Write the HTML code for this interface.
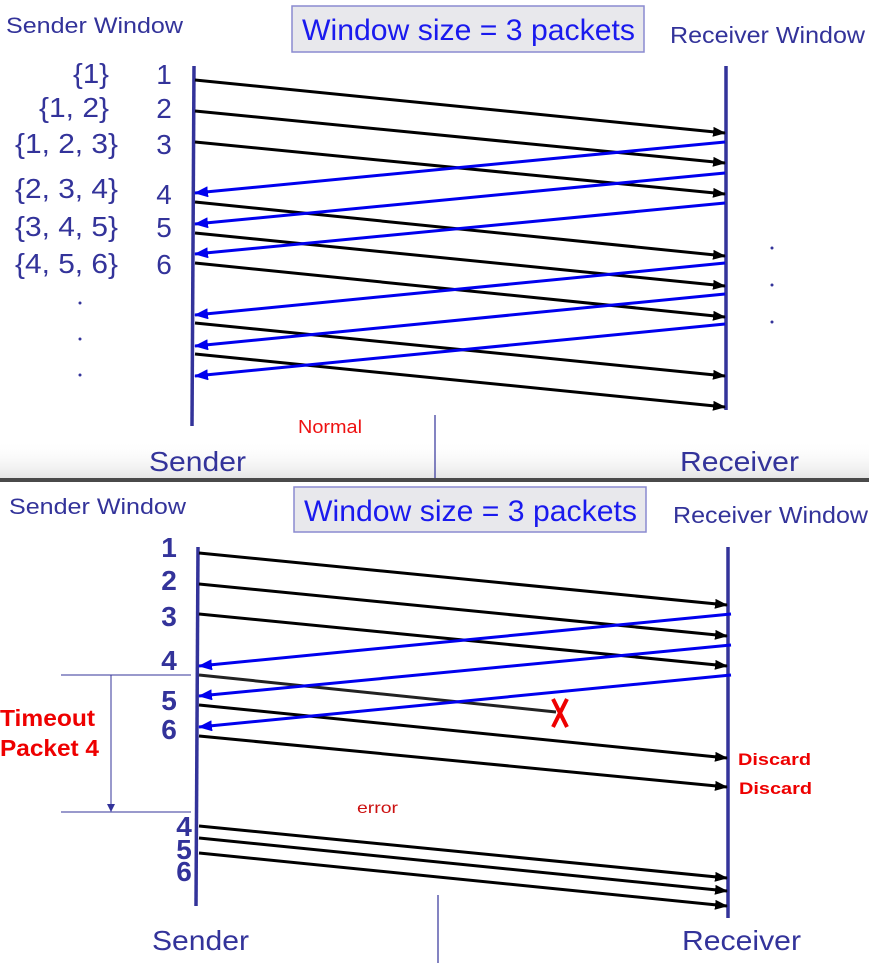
<!DOCTYPE html>
<html><head><meta charset="utf-8"><style>
html,body{margin:0;padding:0;background:#fff;}
svg{display:block;}
text{font-family:"Liberation Sans",Arial,sans-serif;}
</style></head><body>
<svg width="869" height="963" viewBox="0 0 869 963" xmlns="http://www.w3.org/2000/svg">
<defs>
<marker id="ab" markerWidth="13" markerHeight="10" refX="12" refY="5" orient="auto" markerUnits="userSpaceOnUse"><path d="M0,0 L13,5 L0,10 z" fill="#000"/></marker>
<marker id="au" markerWidth="14" markerHeight="11" refX="13" refY="5.5" orient="auto" markerUnits="userSpaceOnUse"><path d="M0,0 L14,5.5 L0,11 z" fill="#0000ee"/></marker>
<marker id="ag" markerWidth="8" markerHeight="8" refX="7" refY="4" orient="auto" markerUnits="userSpaceOnUse"><path d="M0,0 L8,4 L0,8 z" fill="#33339a"/></marker>
<linearGradient id="fade" x1="0" y1="0" x2="0" y2="1"><stop offset="0" stop-color="#fff" stop-opacity="0"/><stop offset="1" stop-color="#e6e6e6"/></linearGradient>
</defs>
<!-- TOP PANEL -->
<text x="6" y="33" font-size="22" fill="#33339a" textLength="177" lengthAdjust="spacingAndGlyphs">Sender Window</text>
<rect x="292" y="6" width="352" height="46" fill="#e8e8ec" stroke="#8a8ad0" stroke-width="1.5"/>
<text x="302" y="40" font-size="30" fill="#1a1aee" textLength="333" lengthAdjust="spacingAndGlyphs">Window size = 3 packets</text>
<text x="670" y="43" font-size="23" fill="#33339a" textLength="195" lengthAdjust="spacingAndGlyphs">Receiver Window</text>
<g font-size="28" fill="#33339a">
<text x="73" y="83" textLength="36" lengthAdjust="spacingAndGlyphs">{1}</text>
<text x="39" y="117" textLength="70" lengthAdjust="spacingAndGlyphs">{1, 2}</text>
<text x="15" y="153" textLength="103" lengthAdjust="spacingAndGlyphs">{1, 2, 3}</text>
<text x="15" y="198" textLength="103" lengthAdjust="spacingAndGlyphs">{2, 3, 4}</text>
<text x="15" y="236" textLength="103" lengthAdjust="spacingAndGlyphs">{3, 4, 5}</text>
<text x="15" y="273" textLength="103" lengthAdjust="spacingAndGlyphs">{4, 5, 6}</text>
</g>
<g font-size="28" fill="#33339a" text-anchor="middle">
<text x="164" y="84">1</text><text x="164" y="118">2</text><text x="164" y="154">3</text>
<text x="164" y="204">4</text><text x="164" y="237">5</text><text x="164" y="274">6</text>
</g>
<g fill="#33339a"><circle cx="80" cy="303" r="1.5"/><circle cx="80" cy="339" r="1.5"/><circle cx="80" cy="375" r="1.5"/>
<circle cx="772" cy="248" r="1.5"/><circle cx="772" cy="285" r="1.5"/><circle cx="772" cy="322" r="1.5"/></g>
<rect x="0" y="440" width="869" height="38" fill="url(#fade)"/>
<line x1="194" y1="66" x2="192" y2="426" stroke="#33339a" stroke-width="3.5"/>
<line x1="726" y1="66" x2="726" y2="410" stroke="#33339a" stroke-width="3.5"/>
<g stroke="#000" stroke-width="3" marker-end="url(#ab)">
<line x1="195" y1="80" x2="725" y2="133"/><line x1="195" y1="111" x2="725" y2="163"/><line x1="195" y1="142" x2="725" y2="194"/>
<line x1="195" y1="202" x2="725" y2="256"/><line x1="195" y1="233" x2="725" y2="286"/><line x1="195" y1="263" x2="725" y2="317"/>
<line x1="195" y1="323" x2="725" y2="376"/><line x1="195" y1="354" x2="725" y2="407"/>
</g>
<g stroke="#0000ee" stroke-width="3" marker-end="url(#au)">
<line x1="725" y1="142" x2="195" y2="193"/><line x1="725" y1="173" x2="195" y2="224"/><line x1="725" y1="203" x2="195" y2="254"/>
<line x1="725" y1="263" x2="195" y2="315"/><line x1="725" y1="294" x2="195" y2="346"/><line x1="725" y1="324" x2="195" y2="376"/>
</g>
<text x="298" y="433" font-size="18" fill="#ee1111" font-family="'DejaVu Sans',sans-serif" textLength="64" lengthAdjust="spacingAndGlyphs">Normal</text>
<line x1="435" y1="415" x2="435" y2="478" stroke="#33339a" stroke-width="1.2"/>
<text x="149" y="471" font-size="28" fill="#33339a" textLength="97" lengthAdjust="spacingAndGlyphs">Sender</text>
<text x="680" y="471" font-size="28" fill="#33339a" textLength="119" lengthAdjust="spacingAndGlyphs">Receiver</text>
<rect x="0" y="478" width="869" height="4" fill="#4a4a4a"/>
<!-- BOTTOM PANEL -->
<text x="9" y="514" font-size="22" fill="#33339a" textLength="177" lengthAdjust="spacingAndGlyphs">Sender Window</text>
<rect x="294" y="487" width="352" height="45" fill="#e8e8ec" stroke="#8a8ad0" stroke-width="1.5"/>
<text x="304" y="521" font-size="30" fill="#1a1aee" textLength="333" lengthAdjust="spacingAndGlyphs">Window size = 3 packets</text>
<text x="673" y="523" font-size="23" fill="#33339a" textLength="195" lengthAdjust="spacingAndGlyphs">Receiver Window</text>
<g font-size="28" font-weight="bold" fill="#33339a" text-anchor="middle">
<text x="169" y="557">1</text><text x="169" y="590">2</text><text x="169" y="626">3</text>
<text x="169" y="670">4</text><text x="169" y="710">5</text><text x="169" y="739">6</text>
<text x="184" y="836">4</text><text x="184" y="859">5</text><text x="184" y="881">6</text>
</g>
<line x1="61" y1="675" x2="191" y2="675" stroke="#33339a" stroke-width="1"/>
<line x1="61" y1="812" x2="191" y2="812" stroke="#33339a" stroke-width="1"/>
<line x1="111" y1="675" x2="111" y2="811" stroke="#33339a" stroke-width="1" marker-end="url(#ag)"/>
<text x="0" y="726" font-size="23" font-weight="bold" fill="#ee0000" textLength="95" lengthAdjust="spacingAndGlyphs">Timeout</text>
<text x="0" y="756" font-size="23" font-weight="bold" fill="#ee0000" textLength="99" lengthAdjust="spacingAndGlyphs">Packet 4</text>
<line x1="198" y1="547" x2="196" y2="906" stroke="#33339a" stroke-width="3.5"/>
<line x1="728" y1="547" x2="728" y2="918" stroke="#33339a" stroke-width="3.5"/>
<g stroke="#000" stroke-width="3" marker-end="url(#ab)">
<line x1="199" y1="553" x2="727" y2="605"/><line x1="199" y1="584" x2="727" y2="636"/><line x1="199" y1="614" x2="727" y2="666"/>
<line x1="199" y1="705" x2="727" y2="758"/><line x1="199" y1="736" x2="727" y2="787"/>
<line x1="199" y1="826" x2="727" y2="878"/><line x1="199" y1="838" x2="727" y2="891"/><line x1="199" y1="853" x2="727" y2="906"/>
</g>
<line x1="199" y1="675" x2="556" y2="712" stroke="#222" stroke-width="3"/>
<path d="M553,699 L567,727 M567,699 L553,727" stroke="#ee0000" stroke-width="4" fill="none"/>
<g stroke="#0000ee" stroke-width="3" marker-end="url(#au)">
<line x1="731" y1="614" x2="199" y2="666"/><line x1="731" y1="645" x2="199" y2="696"/><line x1="731" y1="675" x2="199" y2="727"/>
</g>
<text x="738" y="765" font-size="17" font-weight="bold" fill="#ee0000" textLength="73" lengthAdjust="spacingAndGlyphs">Discard</text>
<text x="739" y="794" font-size="17" font-weight="bold" fill="#ee0000" textLength="73" lengthAdjust="spacingAndGlyphs">Discard</text>
<text x="357" y="813" font-size="16" fill="#cc1111" font-family="'DejaVu Sans',sans-serif" textLength="41" lengthAdjust="spacingAndGlyphs">error</text>
<line x1="438" y1="895" x2="438" y2="963" stroke="#33339a" stroke-width="1.2"/>
<text x="152" y="950" font-size="28" fill="#33339a" textLength="97" lengthAdjust="spacingAndGlyphs">Sender</text>
<text x="682" y="950" font-size="28" fill="#33339a" textLength="119" lengthAdjust="spacingAndGlyphs">Receiver</text>
</svg>
</body></html>
